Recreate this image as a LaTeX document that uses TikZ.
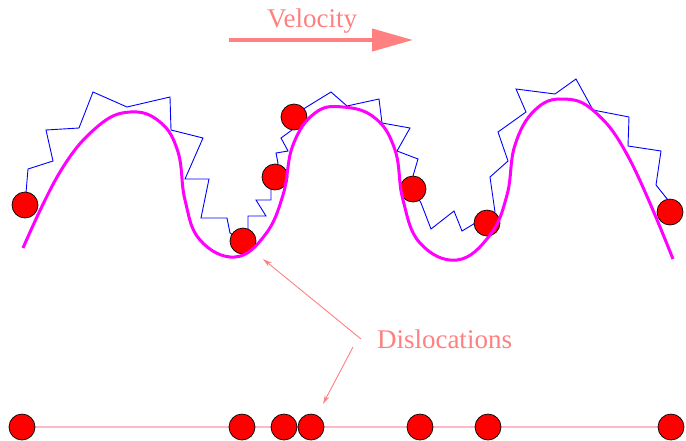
\documentclass[tikz,border=0pt]{standalone}
\usepackage{fontspec}
\setmainfont{Liberation Serif}
\usetikzlibrary{arrows.meta}
\definecolor{salmon}{HTML}{FF8080}
\definecolor{lpink}{HTML}{FFB8C8}
\definecolor{mag}{HTML}{FF00FF}
\pgfdeclarelayer{bg}
\pgfsetlayers{bg,main}
\begin{document}
\begin{tikzpicture}[x=1pt,y=-1pt,
  ball/.style={circle,draw=black,fill=red,minimum size=26pt,inner sep=0pt,line width=0.7pt},
  lbl/.style={text=salmon,font=\fontsize{27}{31}\selectfont,inner sep=0pt},
  wire/.style={blue,line width=0.9pt,line join=miter},
  wavecurve/.style={mag,line width=3pt},
  pointer/.style={salmon,line width=0.9pt,-{Stealth[length=9pt,width=5pt]}},
  track/.style={lpink,line width=2pt}]
\clip (0,0) rectangle (686,440);
% labels and velocity arrow
\node[lbl,anchor=base] (vel) at (312,27) {Velocity};
\coordinate (va) at (229,40);
\coordinate (vb) at (413,40);
\draw[salmon,line width=4pt,-{Triangle[length=41pt,width=22pt]}] (va) -- (vb);
\node[lbl,anchor=base] (disl) at (444.5,348) {Dislocations};
\coordinate (p1) at (361,339);
\coordinate (p2) at (353,347);
\coordinate (t1) at (263,259);
\coordinate (t2) at (323,404);
\draw[pointer] (p1) -- (t1);
\draw[pointer] (p2) -- (t2);
% bottom row
\coordinate (ls) at (22,427);
\coordinate (le) at (671,427);
\draw[track] (ls) -- (le);
\foreach \x [count=\i] in {22,242,284,311,420,488,671}
  \node[ball] (c\i) at (\x,427) {};
% upper balls
\node[ball] (b1) at (25,205) {};
\node[ball] (b2) at (243,241) {};
\node[ball] (b3) at (275,177) {};
\node[ball] (b4) at (294,117) {};
\node[ball] (b5) at (413,189) {};
\node[ball] (b6) at (487,223) {};
\node[ball] (b7) at (670,212) {};
\begin{pgfonlayer}{bg}
\draw[wire] (b1.center) -- (28,169) -- (53,161) -- (46,130) -- (79,128) -- (93,92)
  -- (127,107) -- (170,97) -- (171,130) -- (203,138) -- (185,179) -- (209,179)
  -- (201,218) -- (227,218) -- (230,233) -- (b2.center);
\draw[wire] (b2.center) -- (248,232) -- (248,216) -- (266,216) -- (256,200) -- (271,200)
  -- (271,190) -- (b3.center);
\draw[wire] (b3.center) -- (278,163) -- (276,153) -- (288,151) -- (281,138) -- (292,130)
  -- (b4.center);
\draw[wire] (b4.center) -- (305,108) -- (331,92) -- (347,106) -- (379,99) -- (382,123)
  -- (410,128) -- (397,151) -- (418,159) -- (413,176) -- (b5.center);
\draw[wire] (b5.center) -- (421,203) -- (431,229) -- (454,211) -- (462,231) -- (477,222)
  -- (b6.center);
\draw[wire] (b6.center) -- (495,212) -- (490,177) -- (508,161) -- (498,132) -- (526,112)
  -- (516,89) -- (555,94) -- (576,79) -- (593,110) -- (629,117) -- (628,146) -- (661,151)
  -- (656,185) -- (668,200) -- (b7.center);
\end{pgfonlayer}
% magenta curve
\draw[wavecurve] plot[smooth,tension=0.7] coordinates {
  (23,248) (60,172) (97,127) (130,112) (160,122) (178,152) (185,200) (200,240)
  (235,257) (265,235) (283,195) (293,145) (315,113) (343,107) (375,118) (395,150)
  (403,200) (420,243) (457,260) (490,235) (507,195) (515,145) (535,110) (563,99)
  (595,112) (630,160) (673,259)};
\end{tikzpicture}
\end{document}
